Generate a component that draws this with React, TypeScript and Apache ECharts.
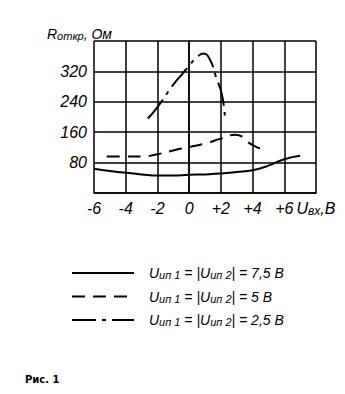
import React, { useEffect, useRef } from "react";
import * as echarts from "echarts";

const xTicks = [-6, -4, -2, 0, 2, 4, 6, 8];
const yTicks = [0, 80, 160, 240, 320, 400];

const solidX = [-6, -5, -4, -3, -2, -1, 0, 1, 2, 3, 4, 5, 6, 7];
const solidY = [64, 58, 53, 49, 46, 46, 48, 49, 51, 55, 60, 72, 89, 98];

const dashedX = [-5.2, -4, -3, -2, -1, 0, 1, 2, 2.9, 3.4, 3.7, 4.2, 4.7];
const dashedY = [96, 96, 96, 102, 112, 121, 130, 143, 153, 147, 134, 122, 113];

const dashDotX = [-2.6, -2, -1, -0.4, 0, 0.5, 0.9, 1.3, 1.7, 2.05, 2.25];
const dashDotY = [196, 226, 285, 315, 335, 358, 367, 352, 305, 262, 204];

const seriesNames = ["7,5 В", "5 В", "2,5 В"];

const FONT = "'Liberation Sans', Arial, sans-serif";

function pairs(xs: number[], ys: number[]) {
  return xs.map((x, i) => [x, ys[i]]);
}

const it = (size: number) => ({
  fontFamily: FONT,
  fontStyle: "italic",
  fontWeight: "normal",
  fontSize: size,
  color: "#000",
});

export default function App() {
  const ref = useRef<HTMLDivElement>(null);
  useEffect(() => {
    if (!ref.current) return;
    const chart = echarts.init(ref.current, undefined, { renderer: "svg" });
    const lineBase = { color: "#000", width: 2 };
    chart.setOption({
      animation: false,
      backgroundColor: "#fff",
      textStyle: { fontFamily: FONT, color: "#000" },
      title: [
        {
          text: "{i|R}{s|откр}{i|, Ом}",
          left: 42,
          top: 21,
          textStyle: {
            fontWeight: "normal",
            rich: {
              i: it(14),
              s: { ...it(11), verticalAlign: "bottom", padding: [4, 0, 0, 0] },
            },
          },
        },
        {
          text: "Рис. 1",
          left: 20,
          top: 369,
          textStyle: { fontFamily: "'DejaVu Sans', sans-serif", fontWeight: "bold", fontSize: 10, color: "#000" },
        },
      ],
      grid: { left: 94, right: 29, top: 41, bottom: 201, containLabel: false },
      legend: {
        orient: "vertical",
        left: 66,
        top: 261,
        itemWidth: 62,
        itemHeight: 12,
        itemGap: 9,
        data: seriesNames,
        selectedMode: false,
        itemStyle: { opacity: 0 },
        formatter: (name: string) =>
          "{i|U}{s|ип 1}{i| = |U}{s|ип 2}{i|| = " + name + "}",
        textStyle: {
          padding: [0, 0, 0, 10],
          rich: {
            i: it(14),
            s: { ...it(11), verticalAlign: "bottom", padding: [4, 0, 0, 0] },
          },
        },
      },
      xAxis: {
        type: "value",
        min: -6,
        max: 8,
        interval: 2,
        axisLine: { show: true, lineStyle: { color: "#000", width: 1.5 } },
        axisTick: { show: false },
        splitLine: { show: true, lineStyle: { color: "#000", width: 1.5 } },
        axisLabel: {
          margin: 7,
          formatter: (v: number) => {
            if (v === 8) return "{i|U}{s|вх}{i|,В}";
            if (xTicks.indexOf(v) < 0) return "";
            return v > 0 ? "{n|+" + v + "}" : "{n|" + v + "}";
          },
          rich: {
            n: it(16),
            i: it(16),
            s: { ...it(12), verticalAlign: "bottom", padding: [5, 0, 0, 0] },
          },
        },
      },
      yAxis: {
        type: "value",
        min: 0,
        max: 400,
        interval: 80,
        axisLine: { show: true, lineStyle: { color: "#000", width: 1.5 } },
        axisTick: { show: false },
        splitLine: { show: true, lineStyle: { color: "#000", width: 1.5 } },
        axisLabel: {
          margin: 7,
          ...it(16),
          formatter: (v: number) => (v === 0 || v === 400 || yTicks.indexOf(v) < 0 ? "" : String(v)),
        },
      },
      series: [
        {
          name: seriesNames[0],
          type: "line",
          smooth: true,
          symbol: "none",
          data: pairs(solidX, solidY),
          lineStyle: { ...lineBase, type: "solid" },
          itemStyle: { color: "#000" },
        },
        {
          name: seriesNames[1],
          type: "line",
          smooth: true,
          symbol: "none",
          data: pairs(dashedX, dashedY),
          lineStyle: { ...lineBase, type: [13, 8] },
          itemStyle: { color: "#000" },
        },
        {
          name: seriesNames[2],
          type: "line",
          smooth: true,
          symbol: "none",
          data: pairs(dashDotX, dashDotY),
          lineStyle: { ...lineBase, type: [24, 6, 4, 6] },
          itemStyle: { color: "#000" },
        },
      ],
    });
    return () => chart.dispose();
  }, []);
  return (
    <div
      ref={ref}
      style={{ position: "fixed", left: 0, top: 0, width: 345, height: 394, background: "#fff" }}
    />
  );
}
